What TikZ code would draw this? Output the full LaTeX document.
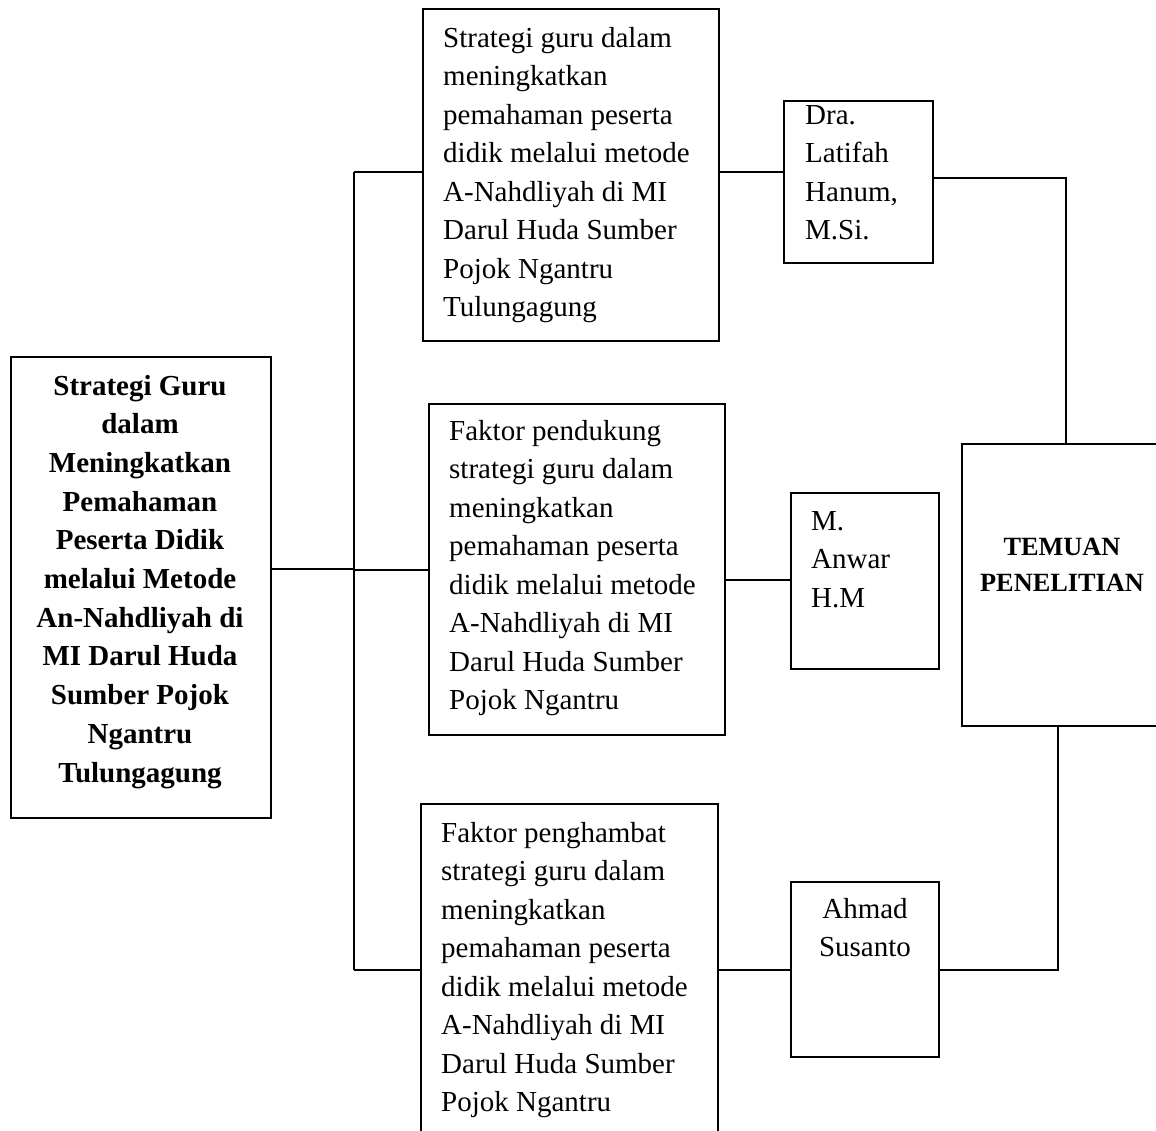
\documentclass[tikz,border=0pt]{standalone}
\usepackage{fontspec}
\setmainfont{Liberation Serif}
\newcommand{\lblk}[1]{\vtop{\hsize=330pt\parindent=0pt\raggedright #1\par}}
\newcommand{\cblk}[2]{\vtop{\hsize=#1\parindent=0pt\centering #2\par}}
\begin{document}
\begin{tikzpicture}[x=1pt,y=-1pt,
  box/.style={draw, line width=1.9pt, inner sep=0pt, anchor=north west},
  txt/.style={inner sep=0pt, anchor=base west, font=\fontsize{29}{38.5}\selectfont},
  ctxt/.style={inner sep=0pt, anchor=base, font=\fontsize{29}{38.5}\selectfont},
  wire/.style={line width=1.9pt}]
\clip (0,0) rectangle (1156,1130);
\fill[white] (0,0) rectangle (1156,1130);

% boxes
\node[box, minimum width=260pt, minimum height=461pt] (L) at (10,356) {};
\node[box, minimum width=296pt, minimum height=332pt] (T) at (422,8) {};
\node[box, minimum width=296pt, minimum height=331pt] (M) at (428,403) {};
\node[box, minimum width=297pt, minimum height=400pt] (B) at (420,803) {};
\node[box, minimum width=149pt, minimum height=162pt] (D) at (783,100) {};
\node[box, minimum width=148pt, minimum height=176pt] (A) at (790,492) {};
\node[box, minimum width=148pt, minimum height=175pt] (H) at (790,881) {};
\node[box, minimum width=260pt, minimum height=282pt] (E) at (961,443) {};

% texts
\node[ctxt, font=\fontsize{29}{38.7}\selectfont\bfseries] (Lt) at (140,395) {\cblk{250pt}{Strategi Guru\\ dalam\\ Meningkatkan\\ Pemahaman\\ Peserta Didik\\ melalui Metode\\ An-Nahdliyah di\\ MI Darul Huda\\ Sumber Pojok\\ Ngantru\\ Tulungagung}};
\node[txt] (Tt) at (443,47) {\lblk{Strategi guru dalam\\ meningkatkan\\ pemahaman peserta\\ didik melalui metode\\ A-Nahdliyah di MI\\ Darul Huda Sumber\\ Pojok Ngantru\\ Tulungagung}};
\node[txt] (Mt) at (449,440) {\lblk{Faktor pendukung\\ strategi guru dalam\\ meningkatkan\\ pemahaman peserta\\ didik melalui metode\\ A-Nahdliyah di MI\\ Darul Huda Sumber\\ Pojok Ngantru}};
\node[txt] (Bt) at (441,842) {\lblk{Faktor penghambat\\ strategi guru dalam\\ meningkatkan\\ pemahaman peserta\\ didik melalui metode\\ A-Nahdliyah di MI\\ Darul Huda Sumber\\ Pojok Ngantru}};
\node[txt] (Dt) at (805,124) {\lblk{Dra.\\ Latifah\\ Hanum,\\ M.Si.}};
\node[txt] (At) at (811,530) {\lblk{M.\\ Anwar\\ H.M}};
\node[ctxt] (Ht) at (865,918) {\cblk{140pt}{Ahmad\\ Susanto}};
\node[ctxt, font=\fontsize{26.3}{36}\selectfont\bfseries] (Et) at (1062,555) {\cblk{200pt}{TEMUAN\\ PENELITIAN}};

% connector points
\coordinate (bt) at (354,172);
\coordinate (bm) at (354,570);
\coordinate (bb) at (354,970);
\coordinate (lm) at (354,569);
\coordinate (td) at (750,172);
\coordinate (ma) at (750,580);
\coordinate (bh) at (750,970);
\coordinate (dr) at (1066,178);
\coordinate (er) at (1058,970);

% connectors
\draw[wire] (L.east |- lm) -- (lm);
\draw[wire] (bt) -- (bb);
\draw[wire] (bt) -- (T.west |- bt);
\draw[wire] (bm) -- (M.west |- bm);
\draw[wire] (bb) -- (B.west |- bb);
\draw[wire] (T.east |- td) -- (D.west |- td);
\draw[wire] (M.east |- ma) -- (A.west |- ma);
\draw[wire] (B.east |- bh) -- (H.west |- bh);
\draw[wire] (D.east |- dr) -- (dr) -- (E.north -| dr);
\draw[wire] (E.south -| er) -- (er) -- (H.east |- er);
\end{tikzpicture}
\end{document}
